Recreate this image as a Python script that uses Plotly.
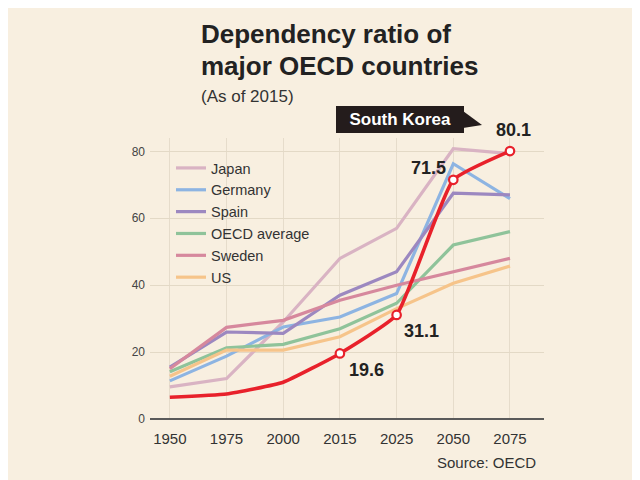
import plotly.graph_objects as go

years = ["1950", "1975", "2000", "2015", "2025", "2050", "2075"]
japan = [9.6, 12.1, 29.0, 48.0, 57.0, 80.8, 79.3]
germany = [11.4, 18.8, 27.5, 30.5, 37.5, 76.3, 65.9]
spain = [15.5, 26.0, 25.6, 37.0, 44.0, 67.5, 67.0]
oecd = [14.1, 21.3, 22.3, 27.0, 34.6, 52.0, 56.0]
sweden = [15.0, 27.4, 29.5, 35.5, 40.0, 44.0, 48.0]
us = [12.8, 20.6, 20.6, 24.6, 33.0, 40.6, 45.7]
korea = [6.5, 7.5, 11.0, 19.6, 31.1, 71.5, 80.1]

series_names = ["Japan", "Germany", "Spain", "OECD average", "Sweden", "US"]
series_values = [japan, germany, spain, oecd, sweden, us]
series_colors = ["#d9b3c3", "#8db4e2", "#9c88c0", "#8fc39a", "#d6889d", "#f6c48a"]

BG = "#f8efe0"
DARK = "#241c1c"
FONT = "Liberation Sans, Arial, sans-serif"

# page offset (body margin) and plot area in screen pixels
OFF = 8
W, H = 640, 480
L, R, T, B = 150 - OFF, 544 - OFF, 130, 419 - OFF
YMAX = 84


def px(xs, ys):
    """screen pixel -> paper coords"""
    xf, yf = xs - OFF, ys - OFF
    return (xf - L) / (R - L), (B - yf) / (B - T)


fig = go.Figure()
for name, vals, col in zip(series_names, series_values, series_colors):
    fig.add_trace(go.Scatter(x=years, y=vals, name=name, mode="lines",
                             line=dict(color=col, width=3.2), hoverinfo="skip"))

fig.add_trace(go.Scatter(x=years, y=korea, name="South Korea", mode="lines",
                         line=dict(color="#e8212b", width=3.6, shape="spline", smoothing=0.4),
                         showlegend=False, hoverinfo="skip"))
fig.add_trace(go.Scatter(x=years[3:], y=korea[3:], mode="markers", showlegend=False,
                         marker=dict(size=8.5, color="white", line=dict(color="#e8212b", width=2.2)),
                         hoverinfo="skip", cliponaxis=False))

annotations = []
# title (two lines)
for txt, yc in [("Dependency ratio of", 34), ("major OECD countries", 66)]:
    tx, ty = px(199, yc)
    annotations.append(dict(xref="paper", yref="paper", x=tx, y=ty, xanchor="left", yanchor="middle",
                            text=f"<b>{txt}</b>", showarrow=False,
                            font=dict(family=FONT, size=26, color="#222222")))
sx, sy = px(199, 97)
annotations.append(dict(xref="paper", yref="paper", x=sx, y=sy, xanchor="left", yanchor="middle",
                        text="(As of 2015)", showarrow=False,
                        font=dict(family=FONT, size=17, color="#333333")))
# source
ox, oy = px(538, 462)
annotations.append(dict(xref="paper", yref="paper", x=ox, y=oy, xanchor="right", yanchor="middle",
                        text="Source: OECD", showarrow=False,
                        font=dict(family=FONT, size=15, color="#333333")))
# South Korea callout
kx, ky = px(400, 119)
annotations.append(dict(xref="paper", yref="paper", x=kx, y=ky, xanchor="center", yanchor="middle",
                        text="&nbsp;&nbsp;<b>South Korea</b>&nbsp;&nbsp;", showarrow=False,
                        bgcolor=DARK, borderpad=3, bordercolor=DARK,
                        font=dict(family=FONT, size=17, color="white")))
p1, p2, p3 = px(463, 111), px(482, 125), px(463, 128)
tail_path = f"M {p1[0]},{p1[1]} L {p2[0]},{p2[1]} L {p3[0]},{p3[1]} Z"
shapes = [dict(type="path", xref="paper", yref="paper", path=tail_path,
               fillcolor=DARK, line=dict(width=0), layer="above")]

# data labels for Korea (category axis -> use category index)
lab_font = dict(family=FONT, size=18, color="#222222")
label_specs = [
    (6, "center", "bottom", 4, 9),
    (5, "right", "middle", -5, 12),
    (4, "left", "top", 5, -4),
    (3, "left", "top", 7, -5),
]
for i, xa, ya, xs, ys in label_specs:
    annotations.append(dict(xref="x", yref="y", x=i, y=korea[i], text=f"<b>{korea[i]}</b>",
                            showarrow=False, xanchor=xa, yanchor=ya, xshift=xs, yshift=ys,
                            font=lab_font))

lx, ly = px(171, 152)
fig.update_layout(
    width=W, height=H,
    margin=dict(l=L, r=W - R, t=T, b=H - B, pad=0),
    paper_bgcolor=BG, plot_bgcolor=BG,
    showlegend=True,
    legend=dict(x=lx, y=ly, xanchor="left", yanchor="top", bgcolor="rgba(0,0,0,0)",
                font=dict(family=FONT, size=14.5, color="#333333"), tracegroupgap=0,
                itemwidth=30),
    annotations=annotations,
    shapes=shapes,
    xaxis=dict(type="category", range=[-0.35, 6.6], showgrid=True, gridcolor="#e6dccb",
               gridwidth=1, showline=False, zeroline=False, ticks="", ticklabelstandoff=9,
               tickfont=dict(family=FONT, size=15, color="#333333")),
    yaxis=dict(range=[0, YMAX], tickvals=[0, 20, 40, 60, 80], showgrid=True,
               gridcolor="#e3d9c6", gridwidth=1, zeroline=True, zerolinecolor="#5a5a5a",
               zerolinewidth=2, showline=False, ticks="", ticklabelstandoff=4,
               tickfont=dict(family=FONT, size=12, color="#444444")),
)

fig.write_html("out.html")
